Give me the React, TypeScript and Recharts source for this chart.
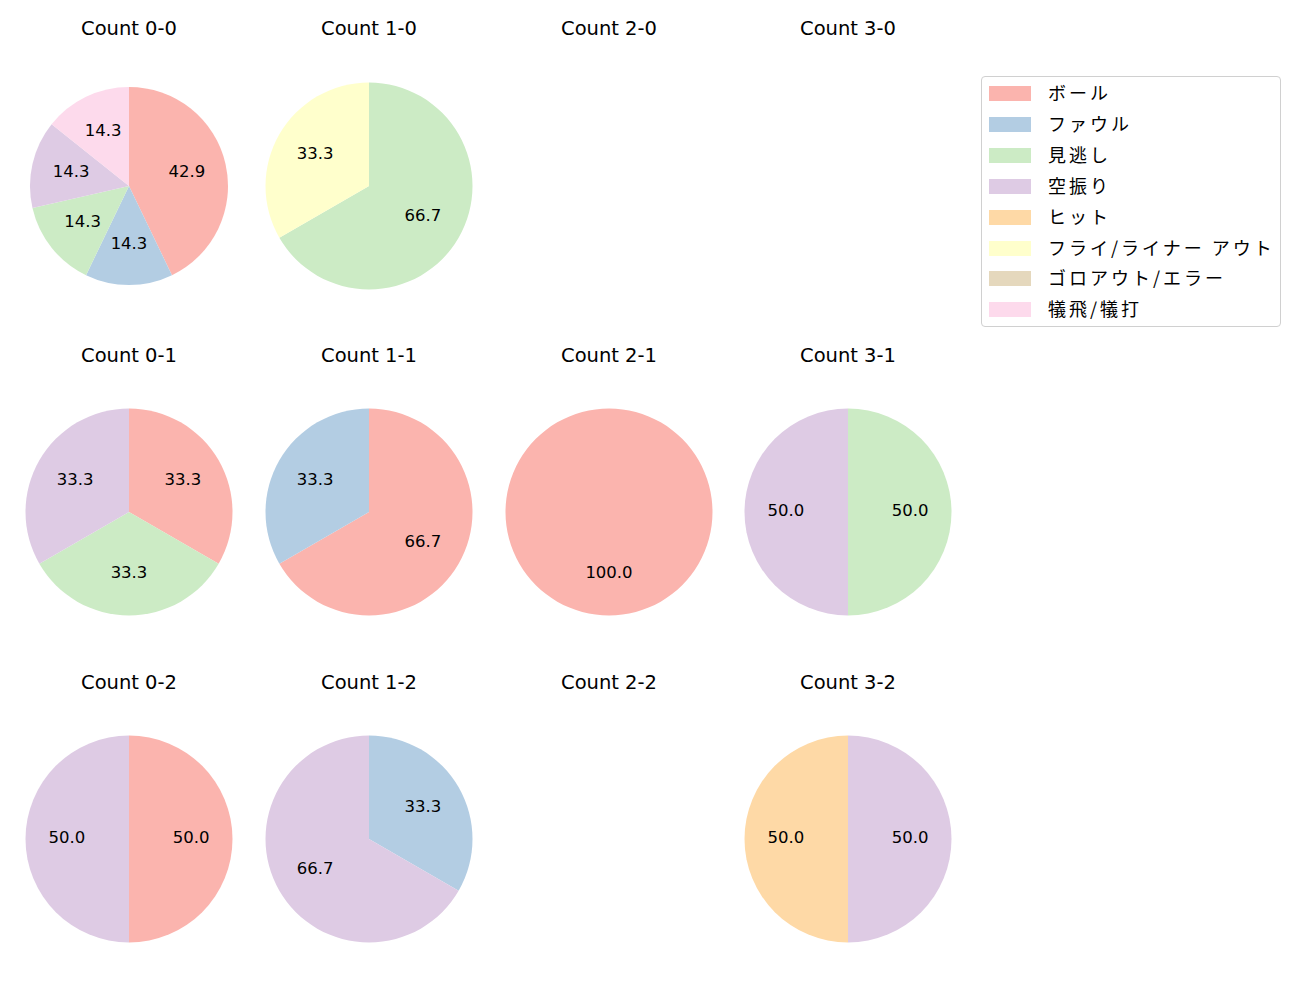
import React from 'react'
import { PieChart, Pie, Cell } from 'recharts'

const categories = ['ボール', 'ファウル', '見逃し', '空振り', 'ヒット', 'フライ/ライナー アウト', 'ゴロアウト/エラー', '犠飛/犠打']
const COLORS = ['#fbb4ae', '#b3cde3', '#ccebc5', '#decbe4', '#fed9a6', '#ffffcc', '#e5d8bd', '#fddaec']

// counts per category, same order as categories
const count00 = [3, 1, 1, 1, 0, 0, 0, 1]
const count10 = [0, 0, 2, 0, 0, 1, 0, 0]
const count20 = [0, 0, 0, 0, 0, 0, 0, 0]
const count30 = [0, 0, 0, 0, 0, 0, 0, 0]
const count01 = [1, 0, 1, 1, 0, 0, 0, 0]
const count11 = [2, 1, 0, 0, 0, 0, 0, 0]
const count21 = [1, 0, 0, 0, 0, 0, 0, 0]
const count31 = [0, 0, 1, 1, 0, 0, 0, 0]
const count02 = [1, 0, 0, 1, 0, 0, 0, 0]
const count12 = [0, 1, 0, 2, 0, 0, 0, 0]
const count22 = [0, 0, 0, 0, 0, 0, 0, 0]
const count32 = [0, 0, 0, 1, 1, 0, 0, 0]

const grid = [
  [
    { title: 'Count 0-0', values: count00 },
    { title: 'Count 1-0', values: count10 },
    { title: 'Count 2-0', values: count20 },
    { title: 'Count 3-0', values: count30 },
  ],
  [
    { title: 'Count 0-1', values: count01 },
    { title: 'Count 1-1', values: count11 },
    { title: 'Count 2-1', values: count21 },
    { title: 'Count 3-1', values: count31 },
  ],
  [
    { title: 'Count 0-2', values: count02 },
    { title: 'Count 1-2', values: count12 },
    { title: 'Count 2-2', values: count22 },
    { title: 'Count 3-2', values: count32 },
  ],
]

const FONT = '"DejaVu Sans", "Noto Sans CJK JP", sans-serif'
const JP_FONT = '"Noto Sans CJK JP", sans-serif'
const colX = [129, 369, 609, 848]
const rowY = [186, 512, 839]
const titleY = [29, 356, 683]
const RADIAN = Math.PI / 180

const renderLabel = (props: any) => {
  const { cx, cy, midAngle, outerRadius, percent } = props
  const r = outerRadius * 0.6
  const x = cx + r * Math.cos(-midAngle * RADIAN)
  const y = cy + r * Math.sin(-midAngle * RADIAN)
  return (
    <text x={x} y={y + 4} fill="#000" fontSize={16.5} fontFamily={FONT} textAnchor="middle">
      {(percent * 100).toFixed(1)}
    </text>
  )
}

function Cellpie({ values, cx, cy, radius }: { values: number[]; cx: number; cy: number; radius: number }) {
  const data = categories
    .map((name, i) => ({ name, value: values[i], color: COLORS[i] }))
    .filter((d) => d.value > 0)
  if (data.length === 0) return null
  return (
    <div style={{ position: 'absolute', left: cx - 130, top: cy - 130 }}>
      <PieChart width={260} height={260} margin={{ top: 0, right: 0, bottom: 0, left: 0 }}>
        <Pie
          data={data}
          dataKey="value"
          cx="50%"
          cy="50%"
          outerRadius={radius}
          startAngle={90}
          endAngle={-270}
          stroke="none"
          label={renderLabel}
          labelLine={false}
          isAnimationActive={false}
        >
          {data.map((d, i) => (
            <Cell key={i} fill={d.color} />
          ))}
        </Pie>
      </PieChart>
    </div>
  )
}

export default function App() {
  return (
    <div style={{ position: 'absolute', left: 0, top: 0, width: 1300, height: 1000, background: '#fff', fontFamily: FONT }}>
      {grid.map((row, ri) =>
        row.map((c, ci) => (
          <React.Fragment key={`${ri}-${ci}`}>
            <div
              style={{
                position: 'absolute',
                left: colX[ci] - 100,
                width: 200,
                top: titleY[ri] - 15,
                height: 30,
                lineHeight: '30px',
                textAlign: 'center',
                fontSize: 19.5,
                color: '#000',
              }}
            >
              {c.title}
            </div>
            <Cellpie values={c.values} cx={colX[ci]} cy={rowY[ri]} radius={ri === 0 && ci === 0 ? 99 : 103.5} />
          </React.Fragment>
        ))
      )}

      {/* legend */}
      <div
        style={{
          position: 'absolute',
          left: 981,
          top: 76,
          width: 298,
          height: 249,
          border: '1px solid #d0d0d0',
          borderRadius: 4,
          background: '#fff',
        }}
      >
        {categories.map((name, i) => (
          <div key={name} style={{ position: 'absolute', left: 0, top: 16 + i * 30.9 - 15, height: 30, width: 298 }}>
            <div style={{ position: 'absolute', left: 7, top: 8, width: 42, height: 15, background: COLORS[i] }} />
            <div
              style={{
                position: 'absolute',
                left: 66,
                top: -1,
                lineHeight: '30px',
                fontSize: 18,
                letterSpacing: 3,
                fontFamily: JP_FONT,
                color: '#000',
                whiteSpace: 'nowrap',
              }}
            >
              {name}
            </div>
          </div>
        ))}
      </div>
    </div>
  )
}
